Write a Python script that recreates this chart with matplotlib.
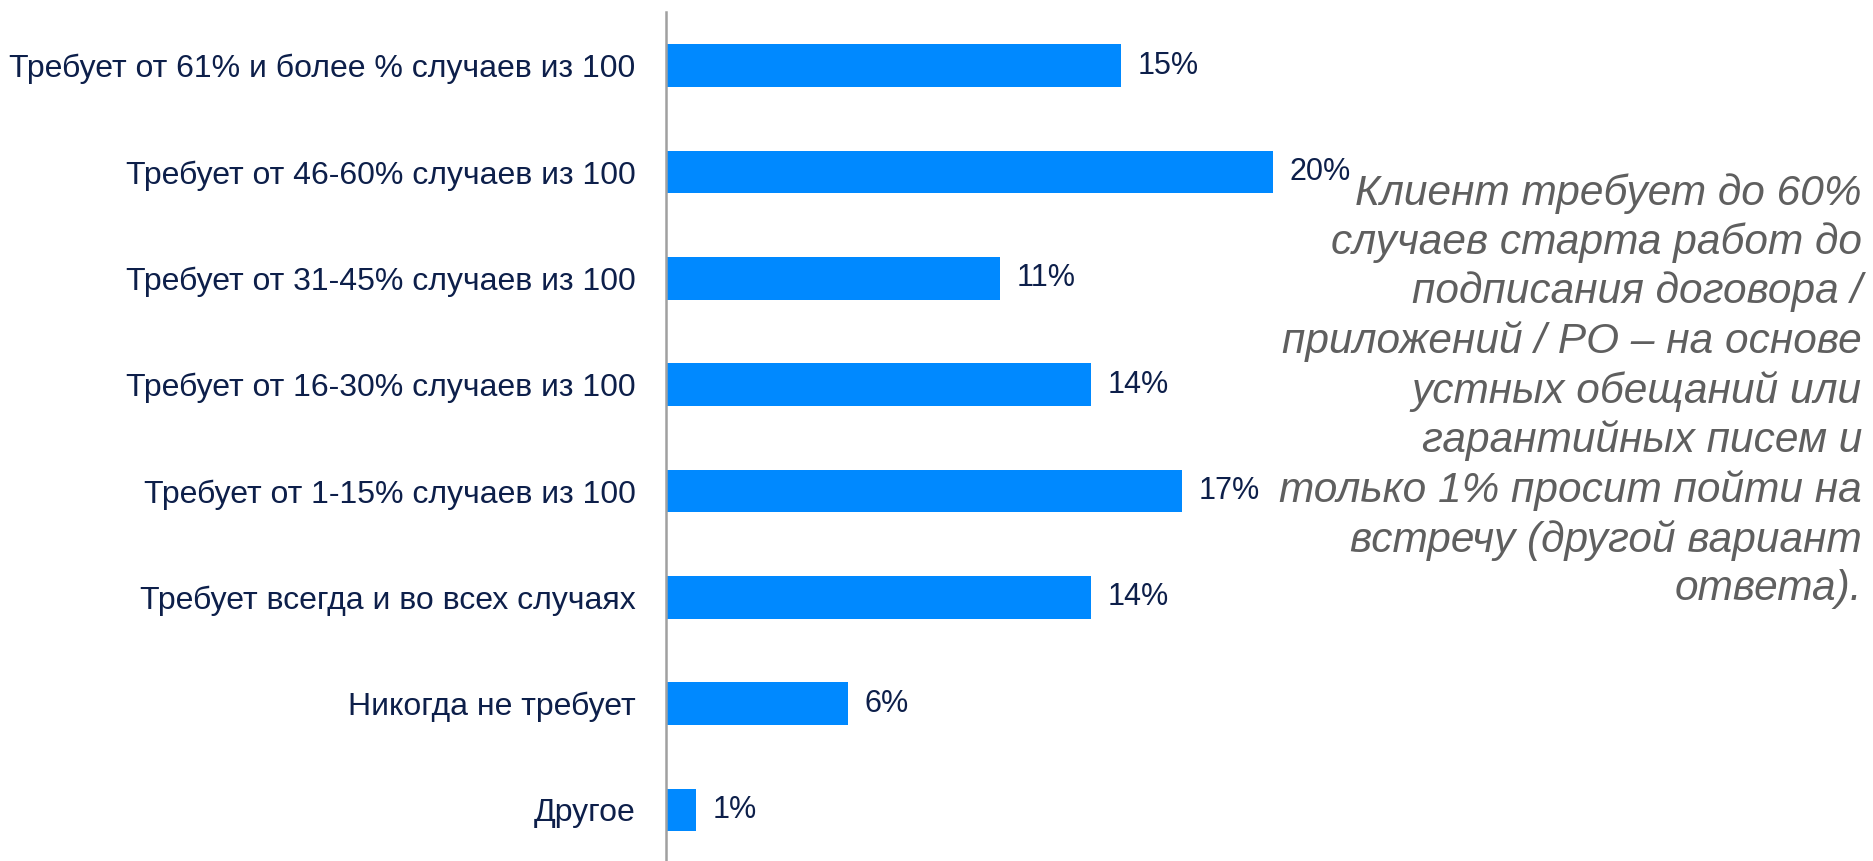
import matplotlib
matplotlib.use("Agg")
import matplotlib.pyplot as plt

categories = [
    "Требует от 61% и более % случаев из 100",
    "Требует от 46-60% случаев из 100",
    "Требует от 31-45% случаев из 100",
    "Требует от 16-30% случаев из 100",
    "Требует от 1-15% случаев из 100",
    "Требует всегда и во всех случаях",
    "Никогда не требует",
    "Другое",
]
values = [15, 20, 11, 14, 17, 14, 6, 1]
note = ("Клиент требует до 60%\n"
        "случаев старта работ до\n"
        "подписания договора /\n"
        "приложений / PO – на основе\n"
        "устных обещаний или\n"
        "гарантийных писем и\n"
        "только 1% просит пойти на\n"
        "встречу (другой вариант\n"
        "ответа).")

plt.rcParams['font.family'] = ['Liberation Sans', 'DejaVu Sans']

W, H = 1874, 861
fig = plt.figure(figsize=(W / 100, H / 100), dpi=100)
left = 666 / W
ax = fig.add_axes([left, 0, 1 - left, 1 - 12 / H])

bar_color = "#0089FF"
text_color = "#0D1F4A"

y = list(range(len(categories)))
ax.barh(y, values, height=0.4, color=bar_color)
ax.set_xlim(0, (W - 666) / 30.35)
ax.set_ylim(7.48, -0.505)

ax.set_yticks(y)
ax.set_yticklabels(categories, fontsize=23, color=text_color)
ax.tick_params(axis='y', length=0, pad=22)
ax.set_xticks([])

for s in ['top', 'right', 'bottom']:
    ax.spines[s].set_visible(False)
ax.spines['left'].set_color('#A0A0A0')
ax.spines['left'].set_linewidth(1.8)

for yi, v in zip(y, values):
    ax.annotate(f"{v}%", (v, yi), xytext=(12, 0), textcoords='offset points',
                ha='left', va='center', fontsize=22, color=text_color)

fig.text(1862 / W, 1 - 391 / H, note, ha='right', va='center', fontsize=30.5,
         style='italic', color='#5F5F5F', linespacing=1.27)

fig.savefig("out.png", dpi=100, facecolor='white')
